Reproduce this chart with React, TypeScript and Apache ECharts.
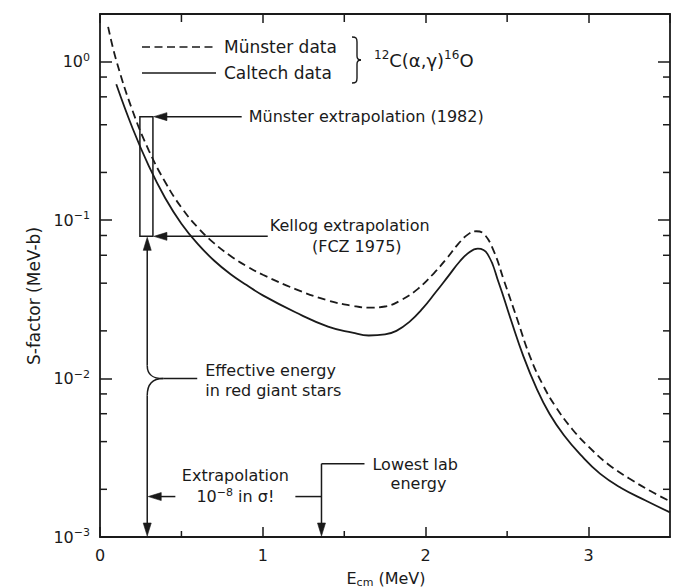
import React, { useEffect, useRef } from "react";
import * as echarts from "echarts";

// ---------- axis ranges & ticks ----------
const X_MIN = 0;
const X_MAX = 3.5;
const Y_MIN = 0.001;
const Y_MAX = 2;
const X_MINOR_TICKS = [0.5, 1.5, 2.5];
const Y_MINOR_TICKS = [0.002, 0.004, 0.006, 0.008, 0.02, 0.04, 0.06, 0.08, 0.2, 0.4, 0.6, 0.8];

// ---------- data ----------
const MUNSTER_E = [0.05, 0.1, 0.2, 0.3, 0.4, 0.5, 0.6, 0.7, 0.8, 0.9, 1.0, 1.2, 1.4, 1.55, 1.65, 1.75, 1.85, 1.95, 2.05, 2.13, 2.2, 2.26, 2.31, 2.36, 2.42, 2.48, 2.56, 2.64, 2.72, 2.8, 2.9, 3.0, 3.12, 3.25, 3.38, 3.5];
const MUNSTER_S = [1.66, 1.02, 0.49, 0.275, 0.174, 0.12, 0.09, 0.0716, 0.0596, 0.0513, 0.0452, 0.0367, 0.0311, 0.0288, 0.028, 0.0285, 0.0313, 0.0367, 0.0462, 0.0575, 0.0708, 0.0813, 0.0851, 0.0813, 0.063, 0.0417, 0.024, 0.0138, 0.0091, 0.0066, 0.00479, 0.00372, 0.00288, 0.00234, 0.00195, 0.00168];

const CALTECH_E = [0.1, 0.2, 0.3, 0.4, 0.5, 0.6, 0.7, 0.8, 0.9, 1.0, 1.2, 1.4, 1.55, 1.65, 1.75, 1.82, 1.9, 1.98, 2.06, 2.14, 2.21, 2.27, 2.32, 2.38, 2.45, 2.52, 2.6, 2.68, 2.76, 2.85, 2.95, 3.07, 3.2, 3.35, 3.5];
const CALTECH_S = [0.72, 0.38, 0.219, 0.138, 0.095, 0.0708, 0.0556, 0.0457, 0.0389, 0.0335, 0.0262, 0.0213, 0.0195, 0.0187, 0.019, 0.02, 0.0228, 0.0276, 0.0349, 0.0445, 0.055, 0.063, 0.066, 0.061, 0.0398, 0.024, 0.0138, 0.0087, 0.006, 0.00437, 0.00331, 0.00251, 0.00204, 0.0017, 0.00143];

// ---------- annotation anchors (data coordinates) ----------
const E_EFFECTIVE = 0.29;
const E_LOWEST_LAB = 1.36;
const BOX_E_LEFT = 0.245;
const BOX_E_RIGHT = 0.325;
const S_MUNSTER_EXTRAP = 0.45;
const S_KELLOG_EXTRAP = 0.079;
const S_RED_GIANT = 0.01;
const S_EXTRAP_ARROW = 0.0018;
const S_LOWEST_LAB_BAR = 0.0029;
const E_MUNSTER_LABEL = 0.87;
const E_KELLOG_LABEL = 1.03;

const INK = "#1a1a1a";
const FONT = '"DejaVu Sans", "Liberation Sans", sans-serif';
const FS = 16;

const mkLine = (x1: number, y1: number, x2: number, y2: number, w = 1.5) => ({
  type: "line",
  shape: { x1, y1, x2, y2 },
  style: { stroke: INK, lineWidth: w, fill: null },
});
const mkTri = (pts: number[][]) => ({
  type: "polygon",
  shape: { points: pts },
  style: { fill: INK, stroke: INK, lineWidth: 0.6 },
});
const mkText = (text: string, x: number, y: number, align = "left", size = FS) => ({
  type: "text",
  x,
  y,
  style: { text, fontSize: size, fontFamily: FONT, fill: INK, align, verticalAlign: "middle" },
});
const RICH_SUP = {
  n: { fontSize: FS, fontFamily: FONT, fill: INK, lineHeight: 20 },
  s: { fontSize: 11, fontFamily: FONT, fill: INK, lineHeight: 11, verticalAlign: "top" },
};
const RICH_FORMULA = {
  n: { fontSize: 18, fontFamily: FONT, fill: INK, lineHeight: 22 },
  s: { fontSize: 12, fontFamily: FONT, fill: INK, lineHeight: 12, verticalAlign: "top" },
};

function renderAnnotations(_params: any, api: any) {
  const P = (e: number, s: number) => api.coord([e, s]);
  const xEff = P(E_EFFECTIVE, Y_MIN)[0];
  const yBottom = P(E_EFFECTIVE, Y_MIN)[1];
  const [bx0, by0] = P(BOX_E_LEFT, S_MUNSTER_EXTRAP);
  const [bx1, by1] = P(BOX_E_RIGHT, S_KELLOG_EXTRAP);
  const xMunEnd = P(E_MUNSTER_LABEL, 1)[0];
  const xKelEnd = P(E_KELLOG_LABEL, 1)[0];
  const yBrace = P(E_EFFECTIVE, S_RED_GIANT)[1];
  const yExtrap = P(E_EFFECTIVE, S_EXTRAP_ARROW)[1];
  const xLab = P(E_LOWEST_LAB, Y_MIN)[0];
  const yLabBar = P(E_LOWEST_LAB, S_LOWEST_LAB_BAR)[1];
  const xMid = (xEff + xLab) / 2;

  const children: any[] = [
    {
      type: "rect",
      shape: { x: bx0, y: by0, width: bx1 - bx0, height: by1 - by0 },
      style: { fill: "none", stroke: INK, lineWidth: 1.5 },
    },
    // Münster extrapolation arrow
    mkLine(bx1 + 10, by0, xMunEnd, by0),
    mkTri([[bx1 + 1, by0], [bx1 + 14, by0 - 4], [bx1 + 14, by0 + 4]]),
    mkText("Münster extrapolation (1982)", xMunEnd + 7, by0),
    // Kellog extrapolation arrow
    mkLine(bx1 + 10, by1, xKelEnd, by1),
    mkTri([[bx1 + 1, by1], [bx1 + 14, by1 - 4], [bx1 + 14, by1 + 4]]),
    mkText("Kellog extrapolation", xKelEnd + 2, by1 - 11),
    mkText("(FCZ 1975)", xKelEnd + 89, by1 + 10, "center"),
    // effective energy vertical arrow with brace
    mkLine(xEff, by1 + 10, xEff, yBrace - 13),
    mkTri([[xEff, by1 + 1], [xEff - 4, by1 + 14], [xEff + 4, by1 + 14]]),
    {
      type: "bezierCurve",
      shape: { x1: xEff, y1: yBrace - 13, cpx1: xEff, cpy1: yBrace - 3, cpx2: xEff + 6, cpy2: yBrace, x2: xEff + 16, y2: yBrace },
      style: { stroke: INK, lineWidth: 1.5, fill: null },
    },
    {
      type: "bezierCurve",
      shape: { x1: xEff + 16, y1: yBrace, cpx1: xEff + 5, cpy1: yBrace, cpx2: xEff, cpy2: yBrace + 6, x2: xEff, y2: yBrace + 17 },
      style: { stroke: INK, lineWidth: 1.5, fill: null },
    },
    mkLine(xEff + 16, yBrace, xEff + 50, yBrace),
    mkLine(xEff, yBrace + 17, xEff, yBottom - 10),
    mkTri([[xEff, yBottom - 1], [xEff - 4, yBottom - 14], [xEff + 4, yBottom - 14]]),
    mkText("Effective energy", xEff + 58, yBrace - 8),
    mkText("in red giant stars", xEff + 58, yBrace + 12),
    // extrapolation 10^-8
    mkTri([[xEff + 1, yExtrap], [xEff + 14, yExtrap - 4], [xEff + 14, yExtrap + 4]]),
    mkLine(xEff + 10, yExtrap, xMid - 59, yExtrap),
    mkLine(xMid + 61, yExtrap, xLab, yExtrap),
    mkText("Extrapolation", xMid + 1, yExtrap - 21, "center"),
    {
      type: "text",
      x: xMid + 1,
      y: yExtrap,
      style: { text: "{n|10}{s|−8}{n| in σ!}", rich: RICH_SUP, align: "center", verticalAlign: "middle", fill: INK },
    },
    // lowest lab energy
    mkLine(xLab, yLabBar, xLab, yBottom - 10),
    mkTri([[xLab, yBottom - 1], [xLab - 4, yBottom - 14], [xLab + 4, yBottom - 14]]),
    mkLine(xLab, yLabBar, xLab + 43, yLabBar),
    mkText("Lowest lab", xLab + 51, yLabBar + 1),
    mkText("energy", xLab + 97, yLabBar + 20, "center"),
  ];
  return { type: "group", children };
}

function renderYMinor(_params: any, api: any) {
  const v = api.value(1);
  const [xl, y] = api.coord([X_MIN, v]);
  const [xr] = api.coord([X_MAX, v]);
  return { type: "group", children: [mkLine(xl, y, xl + 7, y), mkLine(xr, y, xr - 7, y)] };
}

function renderXMinor(_params: any, api: any) {
  const v = api.value(0);
  const [x, yb] = api.coord([v, Y_MIN]);
  const [, yt] = api.coord([v, Y_MAX]);
  return { type: "group", children: [mkLine(x, yb, x, yb - 6), mkLine(x, yt, x, yt + 8)] };
}

const yLabelFormatter = (v: number) => {
  const e = Math.log10(v);
  const r = Math.round(e);
  if (Math.abs(e - r) > 1e-6) return "";
  const ex = r < 0 ? "−" + String(-r) : String(r);
  return `{b|10}{s|${ex}}`;
};

export default function App() {
  const ref = useRef<HTMLDivElement>(null);
  useEffect(() => {
    if (!ref.current) return;
    const chart = echarts.init(ref.current, undefined, { renderer: "svg" });
    const axisLine = { show: true, onZero: false, lineStyle: { color: INK, width: 1.8 } };
    const option: any = {
      animation: false,
      backgroundColor: "#ffffff",
      grid: { left: 100, right: 3, top: 14, bottom: 51, containLabel: false, outerBoundsMode: "none" },
      xAxis: [
        {
          type: "value",
          min: X_MIN,
          max: X_MAX,
          interval: 1,
          position: "bottom",
          axisLine,
          axisTick: { show: true, inside: true, length: 10, lineStyle: { color: INK, width: 1.5 } },
          axisLabel: {
            formatter: (v: number) => (Number.isInteger(v) ? String(v) : ""),
            showMaxLabel: false,
            fontSize: FS,
            fontFamily: FONT,
            color: INK,
            margin: 10,
          },
          splitLine: { show: false },
        },
        {
          type: "value",
          min: X_MIN,
          max: X_MAX,
          interval: 1,
          position: "top",
          axisLine,
          axisTick: { show: true, inside: true, length: 9, lineStyle: { color: INK, width: 1.5 } },
          axisLabel: { show: false },
          splitLine: { show: false },
        },
      ],
      yAxis: [
        {
          type: "log",
          logBase: 10,
          min: Y_MIN,
          max: Y_MAX,
          position: "left",
          axisLine,
          axisTick: { show: true, inside: true, length: 12, lineStyle: { color: INK, width: 1.5 } },
          axisLabel: {
            formatter: yLabelFormatter,
            showMaxLabel: false,
            margin: 10,
            rich: {
              b: { fontSize: FS, fontFamily: FONT, color: INK, lineHeight: 20 },
              s: { fontSize: 11, fontFamily: FONT, color: INK, lineHeight: 11, verticalAlign: "top" },
            },
          },
          splitLine: { show: false },
        },
        {
          type: "log",
          logBase: 10,
          min: Y_MIN,
          max: Y_MAX,
          position: "right",
          axisLine,
          axisTick: { show: true, inside: true, length: 12, lineStyle: { color: INK, width: 1.5 } },
          axisLabel: { show: false },
          splitLine: { show: false },
        },
      ],
      graphic: [
        // legend
        { type: "line", shape: { x1: 142, y1: 47, x2: 216, y2: 47 }, style: { stroke: INK, lineWidth: 1.6, lineDash: [8, 4.5] } },
        { type: "text", x: 224, y: 47, style: { text: "Münster data", fontSize: 17, fontFamily: FONT, fill: INK, align: "left", verticalAlign: "middle" } },
        { type: "line", shape: { x1: 142, y1: 73, x2: 216, y2: 73 }, style: { stroke: INK, lineWidth: 1.6 } },
        { type: "text", x: 224, y: 73, style: { text: "Caltech data", fontSize: 17, fontFamily: FONT, fill: INK, align: "left", verticalAlign: "middle" } },
        // brace
        { type: "bezierCurve", shape: { x1: 352, y1: 37, cpx1: 356, cpy1: 37, cpx2: 357, cpy2: 38, x2: 357, y2: 42 }, style: { stroke: INK, lineWidth: 1.4, fill: null } },
        { type: "line", shape: { x1: 357, y1: 42, x2: 357, y2: 56 }, style: { stroke: INK, lineWidth: 1.4 } },
        { type: "bezierCurve", shape: { x1: 357, y1: 56, cpx1: 357, cpy1: 59, cpx2: 359, cpy2: 60, x2: 361, y2: 60 }, style: { stroke: INK, lineWidth: 1.4, fill: null } },
        { type: "bezierCurve", shape: { x1: 361, y1: 60, cpx1: 359, cpy1: 60, cpx2: 357, cpy2: 61, x2: 357, y2: 64 }, style: { stroke: INK, lineWidth: 1.4, fill: null } },
        { type: "line", shape: { x1: 357, y1: 64, x2: 357, y2: 78 }, style: { stroke: INK, lineWidth: 1.4 } },
        { type: "bezierCurve", shape: { x1: 357, y1: 78, cpx1: 357, cpy1: 82, cpx2: 356, cpy2: 83, x2: 352, y2: 83 }, style: { stroke: INK, lineWidth: 1.4, fill: null } },
        {
          type: "text",
          x: 374,
          y: 60,
          style: { text: "{s|12}{n|C(α,γ)}{s|16}{n|O}", rich: RICH_FORMULA, align: "left", verticalAlign: "middle", fill: INK },
        },
        // axis titles
        {
          type: "text",
          x: 34,
          y: 296,
          rotation: Math.PI / 2,
          style: { text: "S-factor (MeV-b)", fontSize: 17, fontFamily: FONT, fill: INK, align: "center", verticalAlign: "middle" },
        },
        {
          type: "text",
          x: 386,
          y: 578,
          style: {
            text: "{n|E}{c|cm}{n| (MeV)}",
            rich: {
              n: { fontSize: FS, fontFamily: FONT, fill: INK, lineHeight: 20 },
              c: { fontSize: 11, fontFamily: FONT, fill: INK, lineHeight: 9, verticalAlign: "bottom" },
            },
            align: "center",
            verticalAlign: "middle",
            fill: INK,
          },
        },
      ],
      series: [
        {
          name: "Münster data",
          type: "line",
          xAxisIndex: 0,
          yAxisIndex: 0,
          data: MUNSTER_E.map((e, i) => [e, MUNSTER_S[i]]),
          smooth: 0.45,
          showSymbol: false,
          symbol: "none",
          lineStyle: { color: INK, width: 1.8, type: [8, 4.5] },
          silent: true,
        },
        {
          name: "Caltech data",
          type: "line",
          xAxisIndex: 0,
          yAxisIndex: 0,
          data: CALTECH_E.map((e, i) => [e, CALTECH_S[i]]),
          smooth: 0.45,
          showSymbol: false,
          symbol: "none",
          lineStyle: { color: INK, width: 1.8 },
          silent: true,
        },
        {
          type: "custom",
          xAxisIndex: 0,
          yAxisIndex: 0,
          data: Y_MINOR_TICKS.map((v) => [X_MIN, v]),
          renderItem: renderYMinor,
          silent: true,
        },
        {
          type: "custom",
          xAxisIndex: 0,
          yAxisIndex: 0,
          data: X_MINOR_TICKS.map((v) => [v, Y_MIN]),
          renderItem: renderXMinor,
          silent: true,
        },
        {
          type: "custom",
          xAxisIndex: 0,
          yAxisIndex: 0,
          data: [[X_MIN, Y_MIN]],
          renderItem: renderAnnotations,
          silent: true,
        },
      ],
    };
    chart.setOption(option);
    return () => chart.dispose();
  }, []);
  return <div ref={ref} style={{ position: "fixed", left: 0, top: 0, width: 673, height: 588 }} />;
}
